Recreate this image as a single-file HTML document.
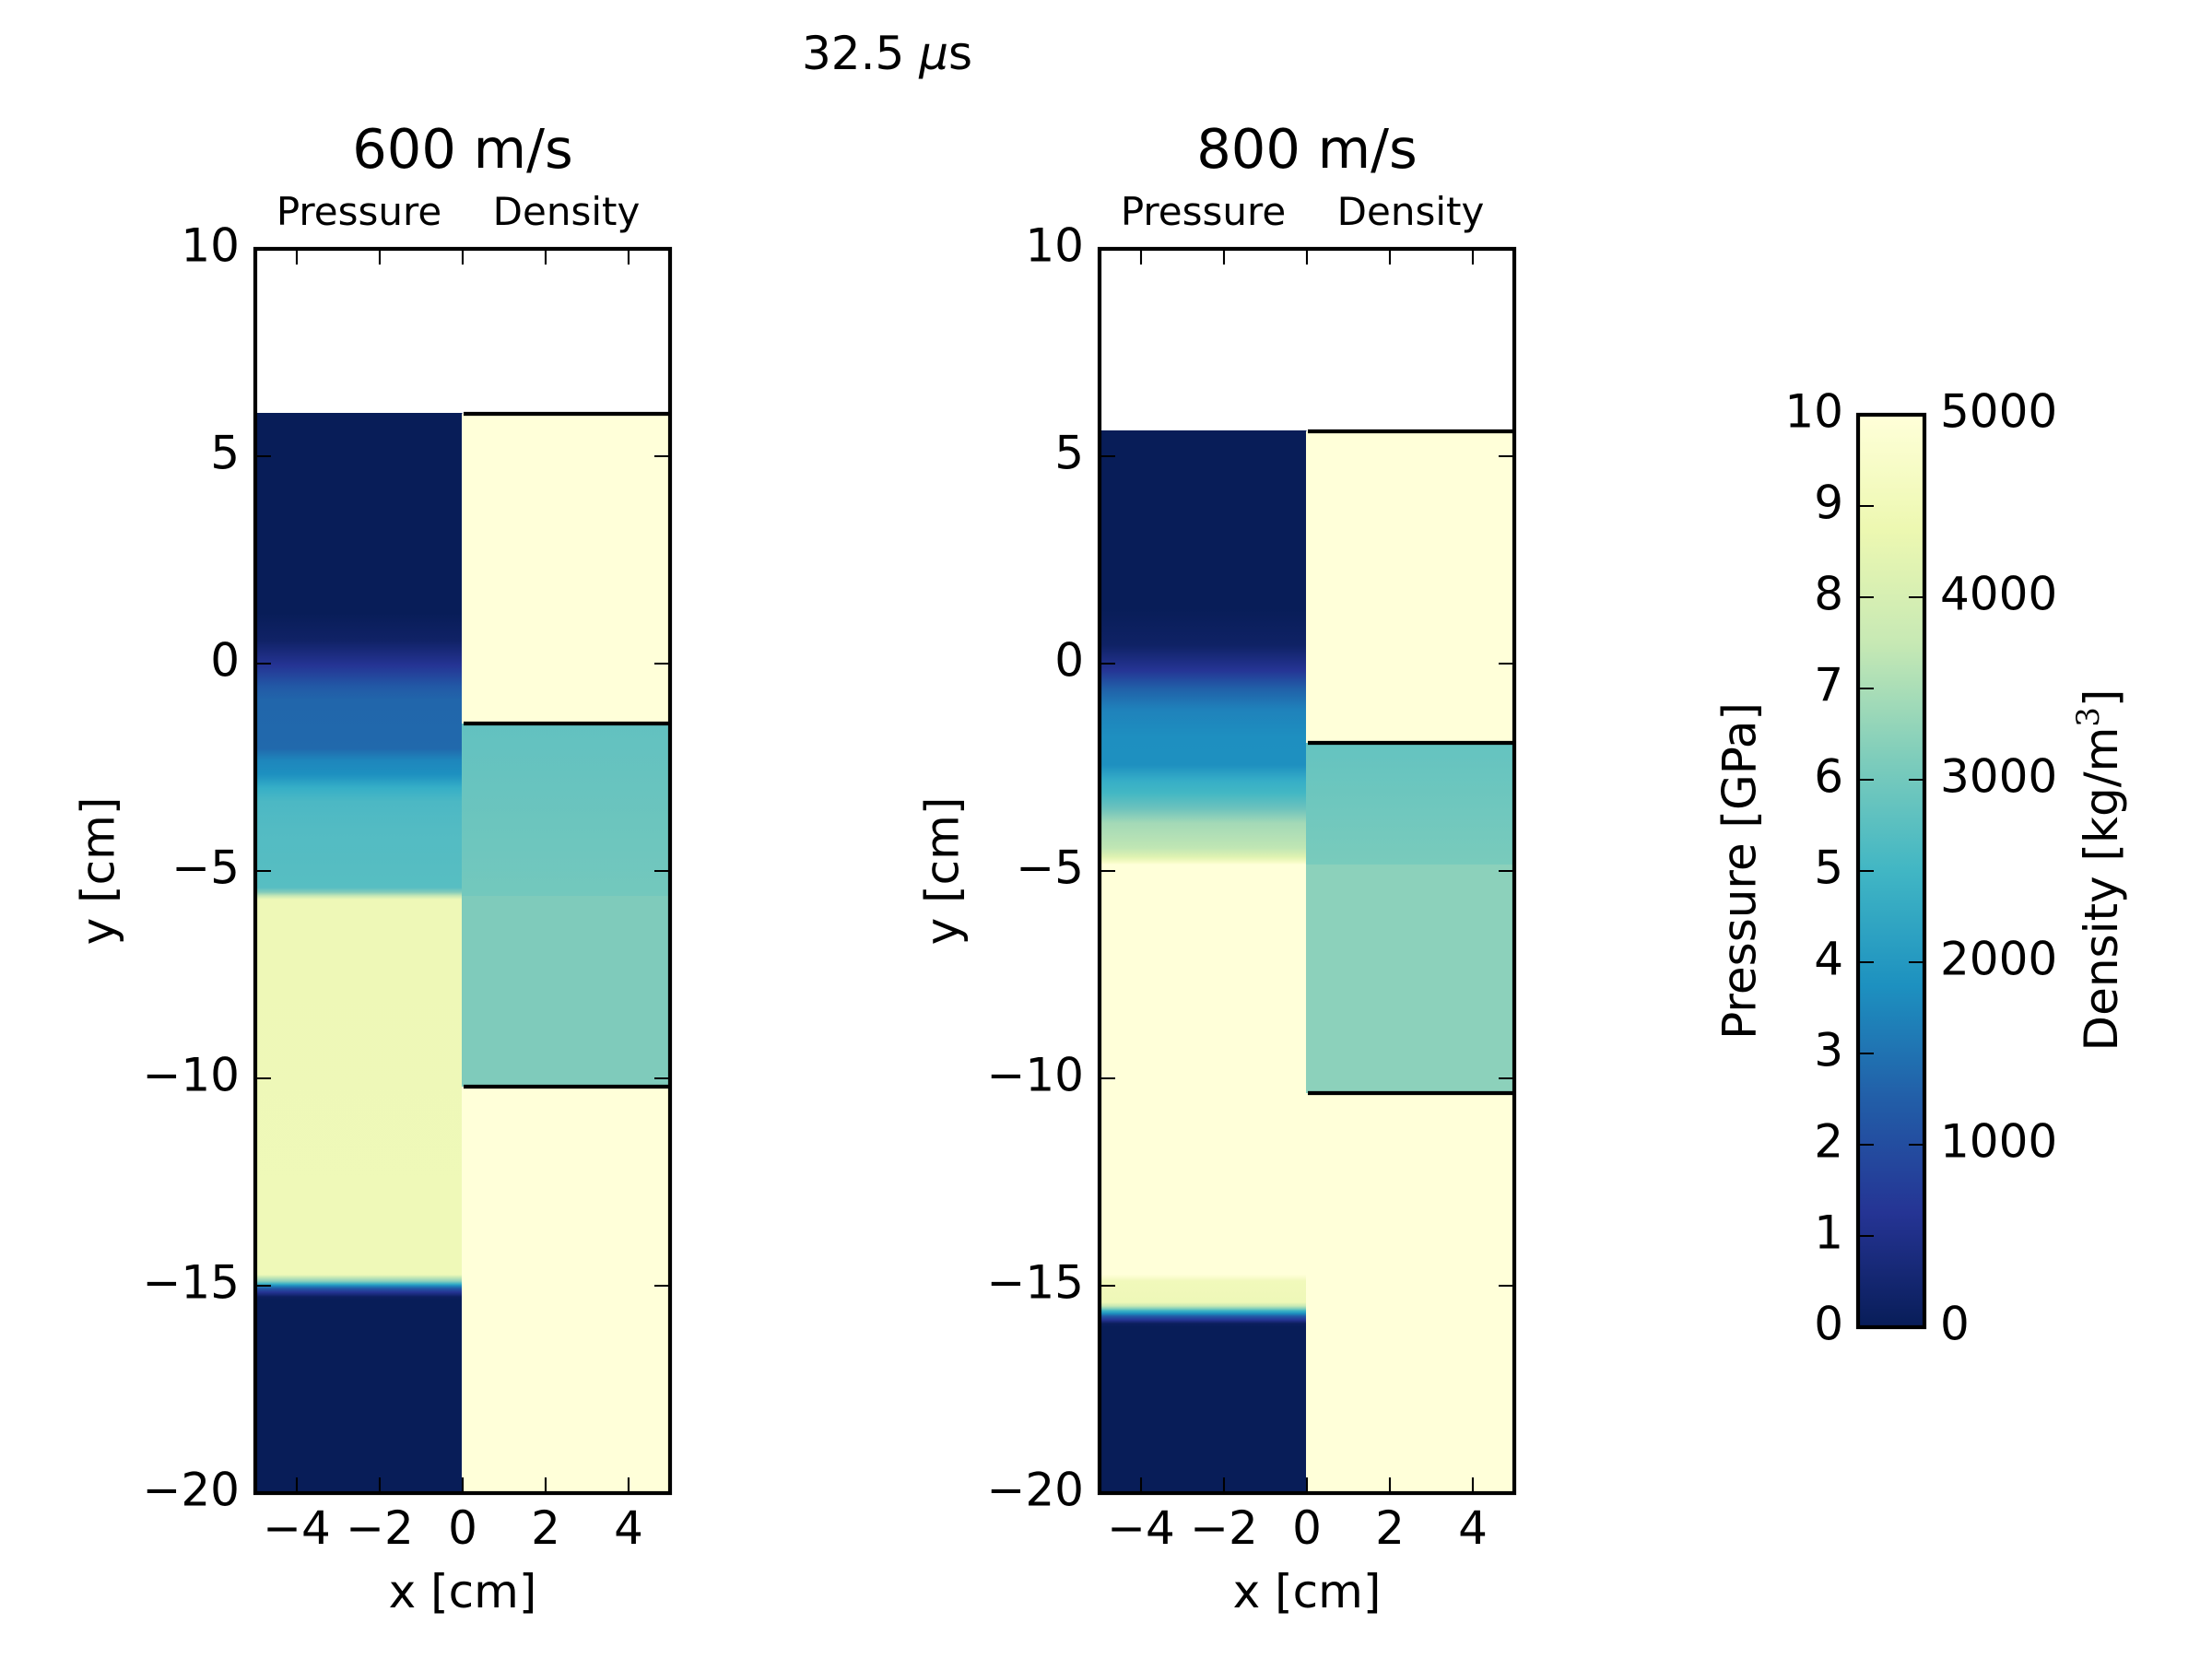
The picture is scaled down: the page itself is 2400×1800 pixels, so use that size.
<!DOCTYPE html>
<html><head><meta charset="utf-8"><style>
html,body{margin:0;padding:0;background:#fff;}
svg{display:block;}
text{font-family:"DejaVu Sans","Liberation Sans",sans-serif;fill:#000;}
</style></head><body>
<svg width="2400" height="1800" viewBox="0 0 2400 1800" xmlns="http://www.w3.org/2000/svg">
<defs>
<linearGradient id="p1" gradientUnits="userSpaceOnUse" x1="0" y1="0" x2="0" y2="1800">
<stop offset="0" stop-color="#081d58"/>
<stop offset="0.3694" stop-color="#081d58"/>
<stop offset="0.3861" stop-color="#102266"/>
<stop offset="0.4011" stop-color="#253494"/>
<stop offset="0.4139" stop-color="#2259a6"/>
<stop offset="0.4222" stop-color="#2166ab"/>
<stop offset="0.4511" stop-color="#2169ac"/>
<stop offset="0.4583" stop-color="#1e86bc"/>
<stop offset="0.4667" stop-color="#1d90c0"/>
<stop offset="0.4750" stop-color="#36afc7"/>
<stop offset="0.4833" stop-color="#4cb8c4"/>
<stop offset="0.5" stop-color="#53bbc3"/>
<stop offset="0.5350" stop-color="#57bec2"/>
<stop offset="0.5378" stop-color="#84ccbb"/>
<stop offset="0.54" stop-color="#c6e7b5"/>
<stop offset="0.5422" stop-color="#eef8b7"/>
<stop offset="0.7683" stop-color="#eff9b8"/>
<stop offset="0.77" stop-color="#c6e8b5"/>
<stop offset="0.7722" stop-color="#8fd0bb"/>
<stop offset="0.7739" stop-color="#3bb1c6"/>
<stop offset="0.775" stop-color="#1f8cbf"/>
<stop offset="0.7767" stop-color="#2258a6"/>
<stop offset="0.7789" stop-color="#253494"/>
<stop offset="0.7817" stop-color="#0c1f5e"/>
<stop offset="0.7839" stop-color="#081d58"/>
<stop offset="1" stop-color="#081d58"/>
</linearGradient>
<linearGradient id="p2" gradientUnits="userSpaceOnUse" x1="0" y1="0" x2="0" y2="1800">
<stop offset="0" stop-color="#081d58"/>
<stop offset="0.3667" stop-color="#081d58"/>
<stop offset="0.3889" stop-color="#0f2265"/>
<stop offset="0.4039" stop-color="#253494"/>
<stop offset="0.415" stop-color="#2160a8"/>
<stop offset="0.4278" stop-color="#1f82bb"/>
<stop offset="0.4444" stop-color="#1e8fc0"/>
<stop offset="0.4611" stop-color="#1e90c0"/>
<stop offset="0.4706" stop-color="#36aec7"/>
<stop offset="0.4778" stop-color="#42b7c4"/>
<stop offset="0.4872" stop-color="#6cc2bd"/>
<stop offset="0.4961" stop-color="#a3d9b7"/>
<stop offset="0.5111" stop-color="#c0e6b4"/>
<stop offset="0.5167" stop-color="#e0f3b2"/>
<stop offset="0.52" stop-color="#f8fcc8"/>
<stop offset="0.5211" stop-color="#ffffd9"/>
<stop offset="0.7683" stop-color="#ffffd9"/>
<stop offset="0.7722" stop-color="#f1f9bb"/>
<stop offset="0.785" stop-color="#eef8b8"/>
<stop offset="0.7872" stop-color="#c7e9b4"/>
<stop offset="0.7889" stop-color="#7fcdbb"/>
<stop offset="0.79" stop-color="#41b6c4"/>
<stop offset="0.7917" stop-color="#1d91c0"/>
<stop offset="0.7933" stop-color="#225ea8"/>
<stop offset="0.7956" stop-color="#253494"/>
<stop offset="0.7978" stop-color="#0c1f5e"/>
<stop offset="0.8" stop-color="#081d58"/>
<stop offset="1" stop-color="#081d58"/>
</linearGradient>
<linearGradient id="d1" x1="0" y1="0" x2="0" y2="1">
<stop offset="0" stop-color="#62c1c0"/>
<stop offset="1" stop-color="#73c8bd"/>
</linearGradient>
<linearGradient id="d2" x1="0" y1="0" x2="0" y2="1">
<stop offset="0" stop-color="#64c3c0"/>
<stop offset="1" stop-color="#79cbbc"/>
</linearGradient>
<linearGradient id="cb" x1="0" y1="0" x2="0" y2="1">
<stop offset="0" stop-color="#ffffd9"/>
<stop offset="0.125" stop-color="#edf8b1"/>
<stop offset="0.25" stop-color="#c7e9b4"/>
<stop offset="0.375" stop-color="#7fcdbb"/>
<stop offset="0.5" stop-color="#41b6c4"/>
<stop offset="0.625" stop-color="#1d91c0"/>
<stop offset="0.75" stop-color="#225ea8"/>
<stop offset="0.875" stop-color="#253494"/>
<stop offset="1" stop-color="#081d58"/>
</linearGradient>
</defs>

<!-- suptitle -->
<text x="870" y="75" font-size="50">32.5 <tspan font-style="italic">μ</tspan>s</text>

<!-- ===== Axes 1 ===== -->
<rect x="277" y="448" width="224.5" height="1172" fill="url(#p1)"/>
<rect x="501" y="449" width="226" height="336" fill="#ffffd9"/>
<rect x="501" y="785" width="226" height="187" fill="url(#d1)"/>
<rect x="501" y="972" width="226" height="207" fill="#7fcbbb"/>
<rect x="501" y="1179" width="226" height="441" fill="#ffffd9"/>
<g stroke="#000" stroke-width="4.2">
<line x1="503" y1="449" x2="727" y2="449"/>
<line x1="503" y1="785" x2="727" y2="785"/>
<line x1="503" y1="1179" x2="727" y2="1179"/>
</g>
<g stroke="#000" stroke-width="2.1">
<line x1="322" y1="1620" x2="322" y2="1603"/><line x1="412" y1="1620" x2="412" y2="1603"/><line x1="502" y1="1620" x2="502" y2="1603"/><line x1="592" y1="1620" x2="592" y2="1603"/><line x1="682" y1="1620" x2="682" y2="1603"/>
<line x1="322" y1="270" x2="322" y2="287"/><line x1="412" y1="270" x2="412" y2="287"/><line x1="502" y1="270" x2="502" y2="287"/><line x1="592" y1="270" x2="592" y2="287"/><line x1="682" y1="270" x2="682" y2="287"/>
<line x1="277" y1="495" x2="294" y2="495"/><line x1="277" y1="720" x2="294" y2="720"/><line x1="277" y1="945" x2="294" y2="945"/><line x1="277" y1="1170" x2="294" y2="1170"/><line x1="277" y1="1395" x2="294" y2="1395"/>
<line x1="727" y1="495" x2="710" y2="495"/><line x1="727" y1="720" x2="710" y2="720"/><line x1="727" y1="945" x2="710" y2="945"/><line x1="727" y1="1170" x2="710" y2="1170"/><line x1="727" y1="1395" x2="710" y2="1395"/>
</g>
<rect x="277" y="270" width="450" height="1350" fill="none" stroke="#000" stroke-width="4.2"/>
<g font-size="50" text-anchor="end">
<text x="260" y="283.5">10</text>
<text x="260" y="508.5">5</text>
<text x="260" y="733.5">0</text>
<text x="260" y="958.5">−5</text>
<text x="260" y="1183.5">−10</text>
<text x="260" y="1408.5">−15</text>
<text x="260" y="1633.5">−20</text>
</g>
<g font-size="50" text-anchor="middle">
<text x="322" y="1675">−4</text>
<text x="412" y="1675">−2</text>
<text x="502" y="1675">0</text>
<text x="592" y="1675">2</text>
<text x="682" y="1675">4</text>
<text x="502" y="1744">x [cm]</text>
<text transform="translate(123.5,945) rotate(-90)">y [cm]</text>
</g>
<text x="502" y="182" font-size="59" text-anchor="middle">600 m/s</text>
<text x="389.5" y="244" font-size="42" text-anchor="middle">Pressure</text>
<text x="614.5" y="244" font-size="42" text-anchor="middle">Density</text>

<!-- ===== Axes 2 ===== -->
<rect x="1193" y="467" width="224.5" height="1153" fill="url(#p2)"/>
<rect x="1417" y="468" width="226" height="338" fill="#ffffd9"/>
<rect x="1417" y="806" width="226" height="132" fill="url(#d2)"/>
<rect x="1417" y="938" width="226" height="248" fill="#8cd1bb"/>
<rect x="1417" y="1186" width="226" height="434" fill="#ffffd9"/>
<g stroke="#000" stroke-width="4.2">
<line x1="1419" y1="468" x2="1643" y2="468"/>
<line x1="1419" y1="806" x2="1643" y2="806"/>
<line x1="1419" y1="1186" x2="1643" y2="1186"/>
</g>
<g stroke="#000" stroke-width="2.1">
<line x1="1238" y1="1620" x2="1238" y2="1603"/><line x1="1328" y1="1620" x2="1328" y2="1603"/><line x1="1418" y1="1620" x2="1418" y2="1603"/><line x1="1508" y1="1620" x2="1508" y2="1603"/><line x1="1598" y1="1620" x2="1598" y2="1603"/>
<line x1="1238" y1="270" x2="1238" y2="287"/><line x1="1328" y1="270" x2="1328" y2="287"/><line x1="1418" y1="270" x2="1418" y2="287"/><line x1="1508" y1="270" x2="1508" y2="287"/><line x1="1598" y1="270" x2="1598" y2="287"/>
<line x1="1193" y1="495" x2="1210" y2="495"/><line x1="1193" y1="720" x2="1210" y2="720"/><line x1="1193" y1="945" x2="1210" y2="945"/><line x1="1193" y1="1170" x2="1210" y2="1170"/><line x1="1193" y1="1395" x2="1210" y2="1395"/>
<line x1="1643" y1="495" x2="1626" y2="495"/><line x1="1643" y1="720" x2="1626" y2="720"/><line x1="1643" y1="945" x2="1626" y2="945"/><line x1="1643" y1="1170" x2="1626" y2="1170"/><line x1="1643" y1="1395" x2="1626" y2="1395"/>
</g>
<rect x="1193" y="270" width="450" height="1350" fill="none" stroke="#000" stroke-width="4.2"/>
<g font-size="50" text-anchor="end">
<text x="1176" y="283.5">10</text>
<text x="1176" y="508.5">5</text>
<text x="1176" y="733.5">0</text>
<text x="1176" y="958.5">−5</text>
<text x="1176" y="1183.5">−10</text>
<text x="1176" y="1408.5">−15</text>
<text x="1176" y="1633.5">−20</text>
</g>
<g font-size="50" text-anchor="middle">
<text x="1238" y="1675">−4</text>
<text x="1328" y="1675">−2</text>
<text x="1418" y="1675">0</text>
<text x="1508" y="1675">2</text>
<text x="1598" y="1675">4</text>
<text x="1418" y="1744">x [cm]</text>
<text transform="translate(1039.5,945) rotate(-90)">y [cm]</text>
</g>
<text x="1418" y="182" font-size="59" text-anchor="middle">800 m/s</text>
<text x="1305.5" y="244" font-size="42" text-anchor="middle">Pressure</text>
<text x="1530.5" y="244" font-size="42" text-anchor="middle">Density</text>

<!-- ===== Colorbar ===== -->
<rect x="2016" y="450" width="72" height="990" fill="url(#cb)"/>
<g stroke="#000" stroke-width="2.1">
<line x1="2016" y1="549" x2="2033" y2="549"/>
<line x1="2016" y1="648" x2="2033" y2="648"/>
<line x1="2016" y1="747" x2="2033" y2="747"/>
<line x1="2016" y1="846" x2="2033" y2="846"/>
<line x1="2016" y1="945" x2="2033" y2="945"/>
<line x1="2016" y1="1044" x2="2033" y2="1044"/>
<line x1="2016" y1="1143" x2="2033" y2="1143"/>
<line x1="2016" y1="1242" x2="2033" y2="1242"/>
<line x1="2016" y1="1341" x2="2033" y2="1341"/>
<line x1="2088" y1="648" x2="2071" y2="648"/>
<line x1="2088" y1="846" x2="2071" y2="846"/>
<line x1="2088" y1="1044" x2="2071" y2="1044"/>
<line x1="2088" y1="1242" x2="2071" y2="1242"/>
</g>
<rect x="2016" y="450" width="72" height="990" fill="none" stroke="#000" stroke-width="4.2"/>
<g font-size="50" text-anchor="end">
<text x="2000" y="463.5">10</text>
<text x="2000" y="562.5">9</text>
<text x="2000" y="661.5">8</text>
<text x="2000" y="760.5">7</text>
<text x="2000" y="859.5">6</text>
<text x="2000" y="958.5">5</text>
<text x="2000" y="1057.5">4</text>
<text x="2000" y="1156.5">3</text>
<text x="2000" y="1255.5">2</text>
<text x="2000" y="1354.5">1</text>
<text x="2000" y="1453.5">0</text>
</g>
<g font-size="50" text-anchor="start">
<text x="2105" y="463.5">5000</text>
<text x="2105" y="661.5">4000</text>
<text x="2105" y="859.5">3000</text>
<text x="2105" y="1057.5">2000</text>
<text x="2105" y="1255.5">1000</text>
<text x="2105" y="1453.5">0</text>
</g>
<text transform="translate(1904.5,945) rotate(-90)" font-size="50" text-anchor="middle">Pressure [GPa]</text>
<text transform="translate(2297,944) rotate(-90)" font-size="50" text-anchor="middle">Density [kg/m<tspan font-family="'DejaVu Serif','Liberation Serif',serif" font-size="34" dy="-20">3</tspan><tspan dy="20">]</tspan></text>
</svg>
</body></html>
